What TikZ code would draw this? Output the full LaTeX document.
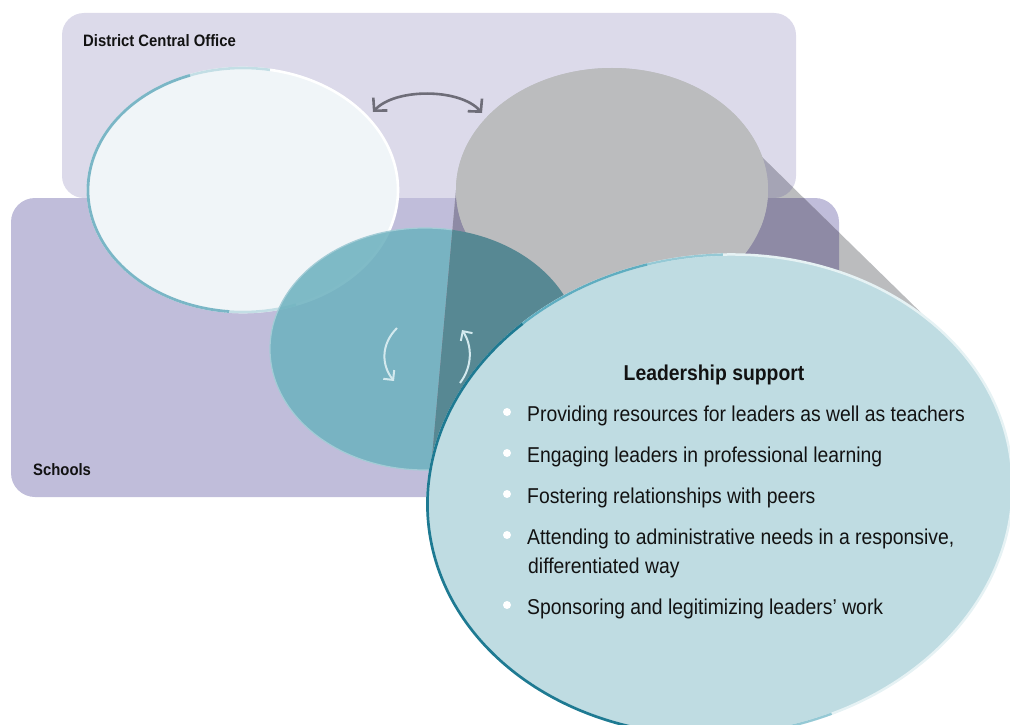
\documentclass[tikz,border=0pt]{standalone}
\usepackage{fontspec}
\setmainfont{Liberation Sans}[FakeStretch=0.9]
\usetikzlibrary{arrows.meta}
\definecolor{topRect}{HTML}{DCDAEA}
\definecolor{schoolsRect}{HTML}{C0BDDA}
\definecolor{whiteEl}{HTML}{F0F5F8}
\definecolor{whiteEdge}{HTML}{7AB6C6}
\definecolor{grayEl}{HTML}{BBBCBE}
\definecolor{tealEl}{HTML}{6EB2BF}
\definecolor{tealEdge}{HTML}{A3CCD6}
\definecolor{wGray}{HTML}{BBBCBE}
\definecolor{wTop}{HTML}{A5A4B5}
\definecolor{wSchool}{HTML}{8E8AA5}
\definecolor{wTeal}{HTML}{578893}
\definecolor{bigEl}{HTML}{BFDCE2}
\definecolor{bigEdgeLight}{HTML}{E6F2F4}
\definecolor{bigEdgeMid}{HTML}{5FADC0}
\definecolor{bigEdgeDark}{HTML}{1E7A92}
\definecolor{arrGray}{HTML}{6E6D78}
\definecolor{tealArr}{HTML}{D3E9EE}
\definecolor{txt}{HTML}{121212}
\tikzset{
  lab/.style={font=\fontsize{16.5}{19}\selectfont\bfseries, inner sep=0pt, text=txt},
  headtxt/.style={font=\fontsize{21.5}{25}\selectfont\bfseries, inner sep=0pt, text=txt},
  itemtxt/.style={font=\fontsize{21.5}{25}\selectfont, inner sep=0pt, text=txt, anchor=base west},
  bul/.style={circle, fill=white, inner sep=0pt, minimum size=8pt},
  garrow/.style={draw=arrGray, line width=2.6pt, {Straight Barb[length=9pt,width=19pt]}-{Straight Barb[length=9pt,width=19pt]}},
  tarrow/.style={draw=tealArr, line width=2pt, -{Straight Barb[length=7pt,width=14pt]}},
}
\begin{document}
\begin{tikzpicture}[x=1pt,y=-1pt]
\useasboundingbox (0,0) rectangle (1010,725);
% coordinates
\coordinate (W) at (243,190);
\coordinate (G) at (612,190);
\coordinate (T) at (425,349);
\coordinate (B) at (720,495);
% rectangles
\fill[topRect, rounded corners=22pt] (62,13) rectangle (796,198);
\fill[schoolsRect, rounded corners=24pt] (11,198) rectangle (839,497);
% white ellipse
\fill[whiteEl] (W) ellipse[x radius=155, y radius=122];
\draw[white, line width=2.6pt] (W) ellipse[x radius=155, y radius=122];
\draw[whiteEdge!45!white, line width=2.6pt] (W) ++(-80:155 and 122) arc[start angle=-80, end angle=-110, x radius=155, y radius=122];
\draw[whiteEdge, line width=2.8pt] (W) ++(-110:155 and 122) arc[start angle=-110, end angle=-265, x radius=155, y radius=122];
\draw[whiteEdge!45!white, line width=2.6pt] (W) ++(-265:155 and 122) arc[start angle=-265, end angle=-290, x radius=155, y radius=122];
% gray ellipse
\fill[grayEl] (G) ellipse[x radius=156, y radius=122];
% teal ellipse
\filldraw[fill=tealEl, fill opacity=0.875, draw=tealEdge, line width=1.2pt] (T) ellipse[x radius=155, y radius=121];
% wedge
\begin{scope}
\clip (456,190) -- (724,120) -- (949,340) -- (B) -- (428,502) -- cycle;
\fill[wGray] (0,0) rectangle (1010,725);
\fill[wTop, rounded corners=22pt] (62,13) rectangle (796,198);
\fill[wSchool, rounded corners=24pt] (11,198) rectangle (839,497);
\fill[grayEl] (G) ellipse[x radius=156, y radius=122];
\fill[wTeal] (T) ellipse[x radius=155, y radius=121];
\end{scope}
% clean redraw of the gray ellipse above the teal one
\begin{scope}
\clip (0,0) rectangle (1010,227);
\fill[grayEl] (G) ellipse[x radius=156, y radius=122];
\end{scope}
% big ellipse
\begin{scope}[shift={(B)}, rotate=5.4]
\fill[bigEl] (0,0) ellipse[x radius=293, y radius=240];
\draw[bigEdgeLight, line width=2.5pt] (0,0) ellipse[x radius=293, y radius=240];
\draw[bigEdgeMid!60!bigEdgeLight, line width=2.3pt] (-85:293 and 240) arc[start angle=-85, end angle=-100, x radius=293, y radius=240];
\draw[bigEdgeMid, line width=2.4pt] (-100:293 and 240) arc[start angle=-100, end angle=-128, x radius=293, y radius=240];
\draw[bigEdgeDark, line width=2.7pt] (-128:293 and 240) arc[start angle=-128, end angle=-252, x radius=293, y radius=240];
\draw[bigEdgeMid, line width=2.4pt] (-252:293 and 240) arc[start angle=-252, end angle=-272, x radius=293, y radius=240];
\draw[bigEdgeMid!60!bigEdgeLight, line width=2.3pt] (-272:293 and 240) arc[start angle=-272, end angle=-288, x radius=293, y radius=240];
\end{scope}
% arrows
\coordinate (aL) at (373,112);
\coordinate (aR) at (482,113);
\draw[garrow] (aL) .. controls (395,88) and (460,88) .. (aR);
\coordinate (l1) at (397,328);
\coordinate (l2) at (394,381);
\draw[tarrow] (l1) .. controls (380,345) and (382,366) .. (l2);
\coordinate (r1) at (460,383);
\coordinate (r2) at (462,330);
\draw[tarrow] (r1) .. controls (473,366) and (472,345) .. (r2);
% labels
\node[lab, anchor=base west] (dco) at (83,47) {District Central Office};
\node[lab, anchor=base west] (sch) at (33,475) {Schools};
\node[headtxt, anchor=base] (ls) at (714,380) {Leadership support};
\node[bul] (b1) at (507,412) {};
\node[bul] (b2) at (507,453) {};
\node[bul] (b3) at (507,494) {};
\node[bul] (b4) at (507,535) {};
\node[bul] (b5) at (507,605) {};
\node[itemtxt] (t1) at (527,421) {Providing resources for leaders as well as teachers};
\node[itemtxt] (t2) at (527,462) {Engaging leaders in professional learning};
\node[itemtxt] (t3) at (527,503) {Fostering relationships with peers};
\node[itemtxt] (t4) at (527,544) {Attending to administrative needs in a responsive,};
\node[itemtxt] (t4b) at (528,573) {differentiated way};
\node[itemtxt] (t5) at (527,614) {Sponsoring and legitimizing leaders’ work};
\end{tikzpicture}
\end{document}
